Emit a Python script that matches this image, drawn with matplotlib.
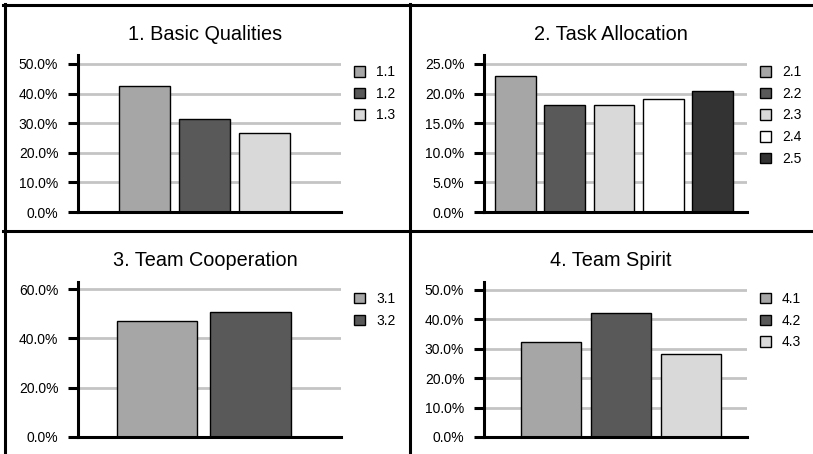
# Four small bar charts of survey item shares, laid out in a 2x2 grid

import matplotlib.pyplot as plt
from matplotlib.lines import Line2D
from matplotlib.patches import Patch
from matplotlib.ticker import PercentFormatter, MultipleLocator

plt.rcParams['font.family'] = ['Liberation Sans', 'DejaVu Sans']

titles = ['1. Basic Qualities', '2. Task Allocation', '3. Team Cooperation', '4. Team Spirit']

labels_1 = ['1.1', '1.2', '1.3']
values_1 = [42.7, 31.4, 26.8]

labels_2 = ['2.1', '2.2', '2.3', '2.4', '2.5']
values_2 = [23.0, 18.1, 18.0, 19.1, 20.5]

labels_3 = ['3.1', '3.2']
values_3 = [47.2, 50.6]

labels_4 = ['4.1', '4.2', '4.3']
values_4 = [32.2, 42.1, 28.1]

bar_colors = ['#a6a6a6', '#595959', '#d9d9d9', '#ffffff', '#333333']

W, H = 813, 454

fig = plt.figure(figsize=(W / 100, H / 100), dpi=100)
fig.patch.set_facecolor('white')


def px_axes(left, top, right, bottom):
    return fig.add_axes([left / W, 1 - bottom / H, (right - left) / W, (bottom - top) / H])


# panel settings: axes box in pixels, y limit, y step, x limits, bar width, title spot
panels = [
    dict(box=(78, 55, 341, 212), ymax=53.0, step=10, xlim=(-1.11, 3.28), width=0.85,
         title_xy=(205, 35), labels=labels_1, values=values_1),
    dict(box=(484, 55, 747, 212), ymax=26.5, step=5, xlim=(-0.64, 4.70), width=0.83,
         title_xy=(611, 35), labels=labels_2, values=values_2),
    dict(box=(78, 282, 341, 437), ymax=62.9, step=20, xlim=(-0.845, 1.968), width=0.856,
         title_xy=(205, 260), labels=labels_3, values=values_3),
    dict(box=(484, 282, 747, 437), ymax=52.7, step=10, xlim=(-0.957, 2.80), width=0.857,
         title_xy=(611, 260), labels=labels_4, values=values_4),
]

for title, p in zip(titles, panels):
    ax = px_axes(*p['box'])
    n = len(p['values'])
    cols = bar_colors[:n]
    ax.bar(range(n), p['values'], width=p['width'], color=cols,
           edgecolor='black', linewidth=1.0, zorder=3)
    ax.set_ylim(0, p['ymax'])
    ax.set_xlim(*p['xlim'])
    ax.yaxis.set_major_locator(MultipleLocator(p['step']))
    ax.yaxis.set_major_formatter(PercentFormatter(decimals=1))
    ax.grid(axis='y', color='#c4c4c4', linewidth=2.0, zorder=0)
    ax.set_xticks([])
    for s in ['top', 'right']:
        ax.spines[s].set_visible(False)
    for s in ['left', 'bottom']:
        ax.spines[s].set_linewidth(2.2)
        ax.spines[s].set_zorder(4)
    ax.tick_params(axis='y', direction='out', length=7.2, width=2.2,
                   pad=7, labelsize=10, colors='black')
    handles = [Patch(facecolor=c, edgecolor='black', linewidth=1.0) for c in cols]
    ax.legend(handles, p['labels'], loc='upper left', bbox_to_anchor=(1.05, 0.935),
              frameon=False, borderpad=0, borderaxespad=0, fontsize=10,
              handlelength=0.78, handleheight=0.78, handletextpad=0.8,
              labelspacing=0.55)
    fig.text(p['title_xy'][0] / W, 1 - p['title_xy'][1] / H, title,
             ha='center', va='center', fontsize=14.3)

# frame lines splitting the four panels
frame_kw = dict(color='black', linewidth=2.2, transform=fig.transFigure)
fig.add_artist(Line2D([3 / W, 1], [1 - 5 / H, 1 - 5 / H], **frame_kw))
fig.add_artist(Line2D([4.5 / W, 4.5 / W], [0, 1 - 3.5 / H], **frame_kw))
fig.add_artist(Line2D([410 / W, 410 / W], [0, 1 - 3.5 / H], **frame_kw))
fig.add_artist(Line2D([3 / W, 1], [1 - 231 / H, 1 - 231 / H], **frame_kw))

fig.savefig('out.png', dpi=100)
